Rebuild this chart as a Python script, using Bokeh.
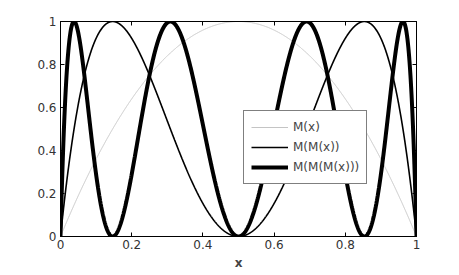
import numpy as np
from bokeh.plotting import figure
from bokeh.models import LinearAxis, Legend, LegendItem, FixedTicker, Range1d
from bokeh.embed import file_html
from bokeh.resources import INLINE

# Logistic map M(x) = 4 x (1 - x) and its iterates
x = np.linspace(0.0, 1.0, 2001)
def M(v):
    return 4.0 * v * (1.0 - v)
m1 = M(x)
m2 = M(m1)
m3 = M(m2)

labels = ["M(x)", "M(M(x))", "M(M(M(x)))"]
xticks = [0, 0.2, 0.4, 0.6, 0.8, 1]
yticks = [0, 0.2, 0.4, 0.6, 0.8, 1]

p = figure(width=451, height=272, output_backend="svg", toolbar_location=None,
           x_range=Range1d(0, 1), y_range=Range1d(0, 1),
           min_border_left=60, min_border_right=35, min_border_top=21, min_border_bottom=30)
p.grid.visible = False
p.outline_line_color = "black"
p.outline_line_width = 1

r1 = p.line(x, m1, line_color="#c4c4c4", line_width=1)
r2 = p.line(x, m2, line_color="black", line_width=1.6)
r3 = p.line(x, m3, line_color="black", line_width=4)

font = "DejaVu Sans"
for ax in [p.xaxis[0], p.yaxis[0]]:
    ax.ticker = FixedTicker(ticks=xticks)
    ax.major_tick_in = 4
    ax.major_tick_out = 0
    ax.minor_tick_line_color = None
    ax.axis_line_color = "black"
    ax.major_tick_line_color = "black"
    ax.major_label_text_font = font
    ax.major_label_text_font_size = "12px"
    ax.major_label_text_color = "#333333"
    ax.major_label_standoff = 4
p.xaxis[0].major_label_standoff = 3
p.yaxis[0].major_label_overrides = {0: "0", 1: "1"}
p.xaxis[0].major_label_overrides = {0: "0", 1: "1"}
p.xaxis[0].axis_label = "x"
p.xaxis[0].axis_label_text_font = font
p.xaxis[0].axis_label_text_font_size = "12px"
p.xaxis[0].axis_label_text_font_style = "bold"
p.xaxis[0].axis_label_standoff = 4

for loc in ["right", "above"]:
    ax = LinearAxis(ticker=FixedTicker(ticks=yticks))
    ax.major_tick_in = 4
    ax.major_tick_out = 0
    ax.minor_tick_line_color = None
    ax.major_label_text_font_size = "0px"
    ax.major_label_text_color = None
    ax.axis_line_color = "black"
    p.add_layout(ax, loc)

legend = Legend(items=[LegendItem(label=labels[0], renderers=[r1]),
                       LegendItem(label=labels[1], renderers=[r2]),
                       LegendItem(label=labels[2], renderers=[r3])],
                location=(183, 52))
legend.label_text_font = font
legend.label_text_font_size = "12px"
legend.glyph_width = 37
legend.glyph_height = 18
legend.label_height = 18
legend.label_standoff = 5
legend.padding = 7
legend.margin = 0
legend.spacing = 2
legend.border_line_color = "black"
legend.border_line_width = 1
legend.background_fill_color = "white"
legend.background_fill_alpha = 1
p.add_layout(legend, "center")

open("out.html", "w").write(file_html(p, INLINE))
